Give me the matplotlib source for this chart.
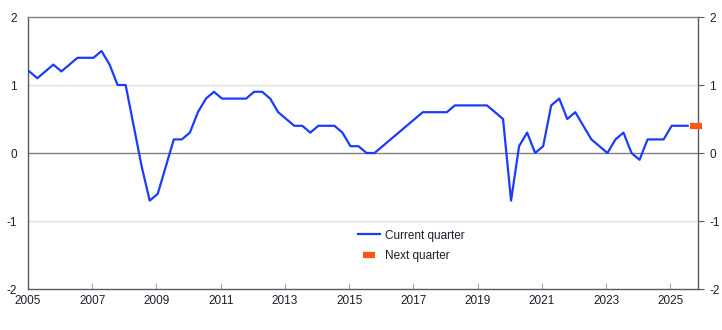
import numpy as np
import matplotlib
matplotlib.use('Agg')
import matplotlib.pyplot as plt

plt.rcParams['font.family'] = ['Liberation Sans', 'DejaVu Sans']

# quarterly values, 2005Q1 .. 2025Q3
current = [
    1.2, 1.1, 1.2, 1.3,    # 2005
    1.2, 1.3, 1.4, 1.4,    # 2006
    1.4, 1.5, 1.3, 1.0,    # 2007
    1.0, 0.4, -0.2, -0.7,  # 2008
    -0.6, -0.2, 0.2, 0.2,  # 2009
    0.3, 0.6, 0.8, 0.9,    # 2010
    0.8, 0.8, 0.8, 0.8,    # 2011
    0.9, 0.9, 0.8, 0.6,    # 2012
    0.5, 0.4, 0.4, 0.3,    # 2013
    0.4, 0.4, 0.4, 0.3,    # 2014
    0.1, 0.1, 0.0, 0.0,    # 2015
    0.1, 0.2, 0.3, 0.4,    # 2016
    0.5, 0.6, 0.6, 0.6,    # 2017
    0.6, 0.7, 0.7, 0.7,    # 2018
    0.7, 0.7, 0.6, 0.5,    # 2019
    -0.7, 0.1, 0.3, 0.0,   # 2020
    0.1, 0.7, 0.8, 0.5,    # 2021
    0.6, 0.4, 0.2, 0.1,    # 2022
    0.0, 0.2, 0.3, 0.0,    # 2023
    -0.1, 0.2, 0.2, 0.2,   # 2024
    0.4, 0.4, 0.4,         # 2025
]
next_quarter = [0.4]       # 2025Q4
start_year = 2005
year_ticks = list(range(2005, 2026, 2))
y_ticks = [-2, -1, 0, 1, 2]

BLUE = '#1a3cff'
ORANGE = '#ff5512'
TEXT = '#1c1c2c'
SPINE = '#5a5a5a'

# points sit roughly mid-month of each quarter's first month
x_cur = start_year + np.arange(len(current)) / 4 + 0.04
x_next = start_year + (len(current) + np.arange(len(next_quarter))) / 4 + 0.04

W, H = 722, 330
fig = plt.figure(figsize=(W / 100, H / 100), dpi=100)
ax = fig.add_axes([28 / W, (H - 289) / H, 670 / W, 272 / H])

for y in (-1, 1):
    ax.axhline(y, color='#e2e2e2', lw=1, zorder=0)
ax.axhline(0, color='#808080', lw=1, zorder=1)

ax.plot(x_cur, current, color=BLUE, lw=1.6, label='Current quarter', zorder=3)
ax.plot(x_next, next_quarter, ls='none', marker='_', ms=8, mew=4.5,
        color=ORANGE, label='Next quarter', clip_on=False, zorder=4)

ax.set_xlim(2005.02, 2025.86)
ax.set_ylim(-2, 2)
ax.set_xticks(year_ticks)
ax.set_xticklabels([str(y) for y in year_ticks])
ax.set_yticks(y_ticks)
ax.set_yticklabels([str(y) for y in y_ticks])

for side in ('left', 'right', 'bottom'):
    ax.spines[side].set_color(SPINE)
    ax.spines[side].set_linewidth(1)
ax.spines['top'].set_color('#808080')
ax.spines['top'].set_linewidth(1)

ax.tick_params(axis='x', direction='in', length=4, color='#aaaaaa',
               labelsize=8.5, labelcolor=TEXT, pad=4)
ax.tick_params(axis='y', which='both', left=False, right=True,
               labelleft=True, labelright=True, direction='out',
               length=4, color=SPINE, labelsize=8.5, labelcolor=TEXT, pad=4)

leg = ax.legend(loc='center left', bbox_to_anchor=((358 - 28) / 670, (289 - 246) / 272),
                frameon=False, fontsize=8.5, handlelength=1.9, handletextpad=0.35,
                labelspacing=0.75, borderpad=0, borderaxespad=0)
for t in leg.get_texts():
    t.set_color(TEXT)

fig.savefig('out.png', dpi=100)
